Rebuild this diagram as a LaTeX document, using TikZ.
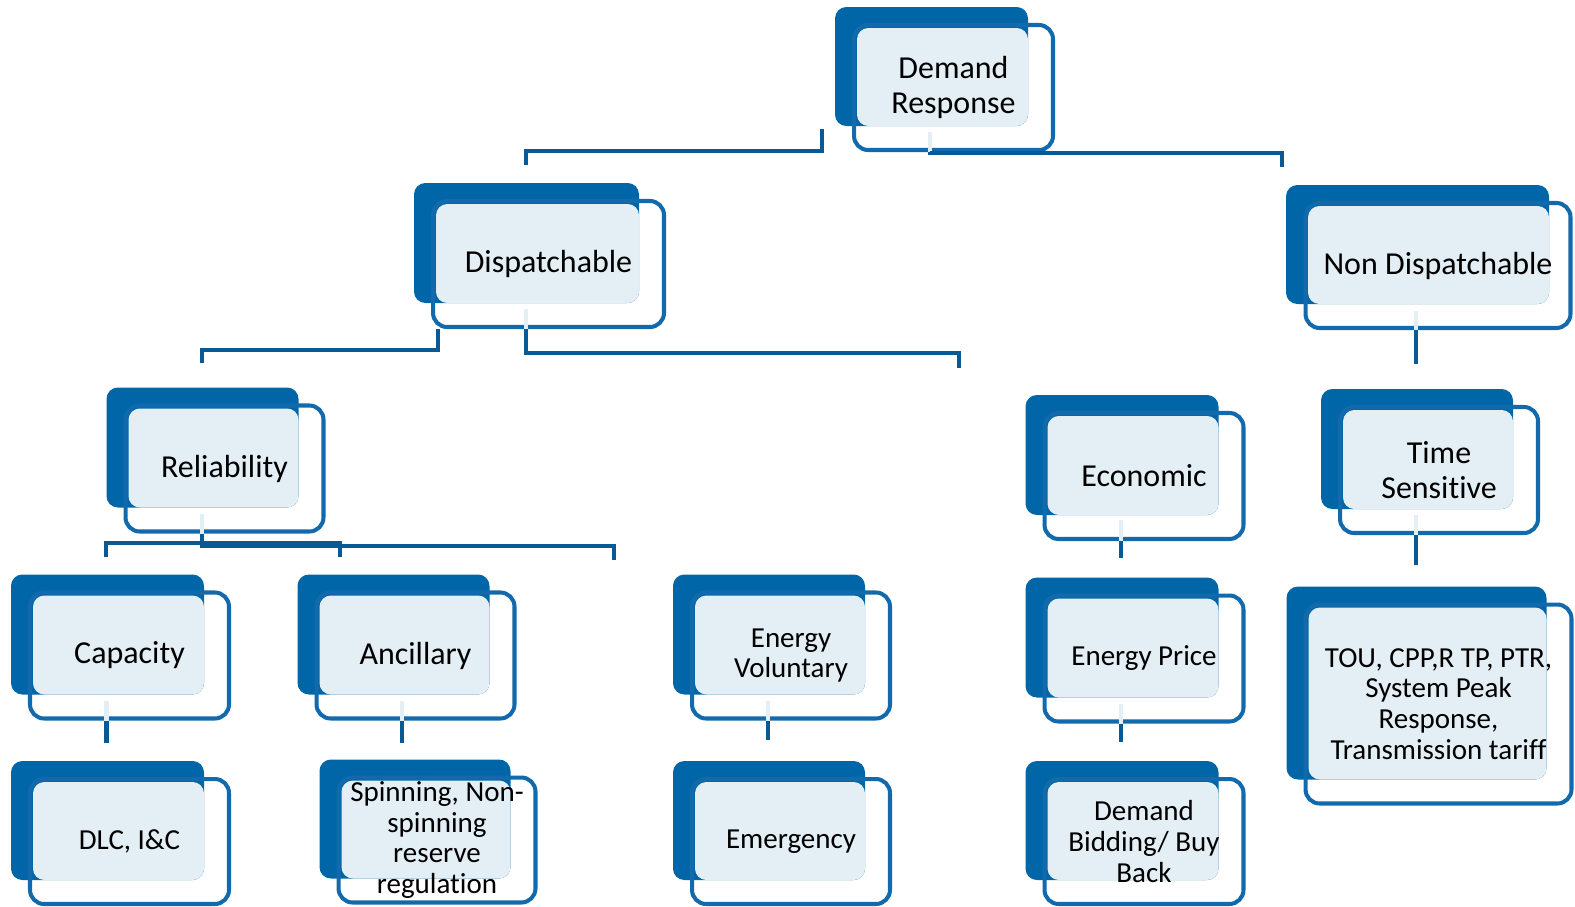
\documentclass[tikz,border=0pt]{standalone}
\usepackage{fontspec}
\setmainfont{Carlito}[Ligatures=NoCommon]
\usetikzlibrary{positioning,calc}
\definecolor{drblue}{RGB}{0,102,168}
\definecolor{drline}{RGB}{8,89,148}
\definecolor{drframe}{RGB}{18,106,172}
\definecolor{drface}{RGB}{228,238,245}

\begin{document}
\begin{tikzpicture}[x=0.02cm, y=-0.02cm,
		back/.style={fill=drblue, rounded corners=6.5pt},
		face/.style={fill=drface, rounded corners=6.5pt},
		frame/.style={rectangle, draw=drframe, line width=2.3pt, rounded corners=8pt, align=center, inner sep=0pt, minimum width=3.96cm, minimum height=2.52cm, font=\fontsize{18.2}{20.2}\selectfont},
		small/.style={font=\fontsize{16.5}{17.5}\selectfont},
		link/.style={draw=drline, line width=2.8pt},
		stub/.style={draw=drface, line width=2.8pt}
	]
	\useasboundingbox (0,0) rectangle (1575,906);

	% Demand Response
	\fill[back] (835,7) rectangle ++(193,119);
	\fill[face] (857,28) rectangle (1028,126);
	\node[frame, minimum width=3.98cm, minimum height=2.5cm] (dr) at (953.5,87.5) {Demand\\Response};

	% Second level
	\fill[back] (414,183) rectangle ++(225,120);
	\fill[face] (436,204) rectangle (639,303);
	\node[frame, minimum width=4.62cm] (disp) at (548.5,264) {Dispatchable};

	\fill[back] (1286,185) rectangle ++(263,119);
	\fill[face] (1308,206) rectangle (1549,304);
	\node[frame, minimum width=5.3cm, minimum height=2.5cm] (nondisp) at (1438,265.5) {Non Dispatchable};

	% Third level
	\fill[back] (106.5,387.5) rectangle ++(192,120);
	\fill[face] (128.5,408.5) rectangle (298.5,507.5);
	\node[frame] (rel) at (224.5,468.5) {Reliability};

	\fill[back] (1025.5,395) rectangle ++(193,120);
	\fill[face] (1047.5,416) rectangle (1218.5,515);
	\node[frame, minimum width=3.98cm] (econ) at (1144,476) {Economic};

	\fill[back] (1321,389) rectangle ++(192,120);
	\fill[face] (1343,410) rectangle (1513,509);
	\node[frame] (timesens) at (1439,470) {Time\\Sensitive};

	% Programs
	\fill[back] (11,574.5) rectangle ++(193,120);
	\fill[face] (33,595.5) rectangle (204,694.5);
	\node[frame, minimum width=3.98cm] (cap) at (129.5,655.5) {Capacity};

	\fill[back] (297.5,574.5) rectangle ++(192,120);
	\fill[face] (319.5,595.5) rectangle (489.5,694.5);
	\node[frame] (anc) at (415.5,655.5) {Ancillary};

	\fill[back] (673,574.5) rectangle ++(192,120);
	\fill[face] (695,595.5) rectangle (865,694.5);
	\node[frame, small] (envol) at (791,655.5) {Energy\\Voluntary};

	\fill[back] (1025.5,577.5) rectangle ++(193,120);
	\fill[face] (1047.5,598.5) rectangle (1218.5,697.5);
	\node[frame, small, minimum width=3.98cm] (eprice) at (1144,658.5) {Energy Price};

	\fill[back] (1286.5,586.5) rectangle ++(260,193);
	\fill[face] (1308.5,607.5) rectangle (1546.5,779.5);
	\node[frame, small, minimum width=5.32cm, minimum height=3.98cm] (tou) at (1438.5,704) {TOU, CPP,R TP, PTR,\\System Peak\\Response,\\Transmission tariff};

	% Examples
	\fill[back] (11,761) rectangle ++(193,119);
	\fill[face] (33,782) rectangle (204,880);
	\node[frame, small, minimum width=3.98cm, minimum height=2.5cm] (dlc) at (129.5,841.5) {DLC, I\&C};

	\fill[back] (319.5,759.5) rectangle ++(191,119);
	\fill[face] (341.5,780.5) rectangle (510.5,878.5);
	\node[frame, small, minimum width=3.94cm, minimum height=2.5cm] (spin) at (437,840) {Spinning, Non-\\spinning\\reserve\\regulation};

	\fill[back] (673,761) rectangle ++(192,119);
	\fill[face] (695,782) rectangle (865,880);
	\node[frame, small, minimum height=2.5cm] (emerg) at (791,841.5) {Emergency};

	\fill[back] (1025.5,761) rectangle ++(193,119);
	\fill[face] (1047.5,782) rectangle (1218.5,880);
	\node[frame, small, minimum width=3.98cm, minimum height=2.5cm] (bid) at (1144,841.5) {Demand\\Bidding/ Buy\\Back};

	% Free ends of the connectors
	\coordinate (dr-left) at (822,129);
	\coordinate (disp-in) at (526,165);
	\coordinate (nondisp-in) at (1282,167);
	\coordinate (rel-in) at (202,363);
	\coordinate (econ-in) at (959,368);
	\coordinate (timesens-in) at (1416,364);
	\coordinate (cap-in) at (106,557);
	\coordinate (anc-in) at (340,557);
	\coordinate (envol-in) at (614,560);
	\coordinate (eprice-in) at (1121,558);
	\coordinate (tou-in) at (1416,565);
	\coordinate (dlc-in) at (106.5,743);
	\coordinate (spin-in) at (402,743);
	\coordinate (emerg-in) at (768,740);
	\coordinate (bid-in) at (1121,742);

	% Connections
	\draw[link] (dr-left) |- (526,151) -- (disp-in);
	\draw[stub] (930,132) -- (dr.south -| 930,0);
	\draw[link] (dr.south -| 930,0) |- (1282,153) -- (nondisp-in);

	\draw[link] (disp.south -| 438,0) |- (202,350) -- (rel-in);
	\draw[stub] (526,309) -- (disp.south -| 526,0);
	\draw[link] (disp.south -| 526,0) |- (959,353) -- (econ-in);

	\draw[stub] (1416,311) -- (nondisp.south -| 1416,0);
	\draw[link] (nondisp.south -| 1416,0) -- (timesens-in);

	\draw[stub] (202,514) -- (rel.south -| 202,0);
	\draw[link] (rel.south -| 202,0) |- (614,546) -- (envol-in);
	\draw[link] (cap-in) |- (340,543) -- (anc-in);

	\draw[stub] (1121,520) -- (econ.south -| 1121,0);
	\draw[link] (econ.south -| 1121,0) -- (eprice-in);
	\draw[stub] (1416,515) -- (timesens.south -| 1416,0);
	\draw[link] (timesens.south -| 1416,0) -- (tou-in);

	\draw[stub] (106.5,701) -- (cap.south -| 106.5,0);
	\draw[link] (cap.south -| 106.5,0) -- (dlc-in);
	\draw[stub] (402,701) -- (anc.south -| 402,0);
	\draw[link] (anc.south -| 402,0) -- (spin-in);
	\draw[stub] (768,701) -- (envol.south -| 768,0);
	\draw[link] (envol.south -| 768,0) -- (emerg-in);
	\draw[stub] (1121,704) -- (eprice.south -| 1121,0);
	\draw[link] (eprice.south -| 1121,0) -- (bid-in);

\end{tikzpicture}
\end{document}
